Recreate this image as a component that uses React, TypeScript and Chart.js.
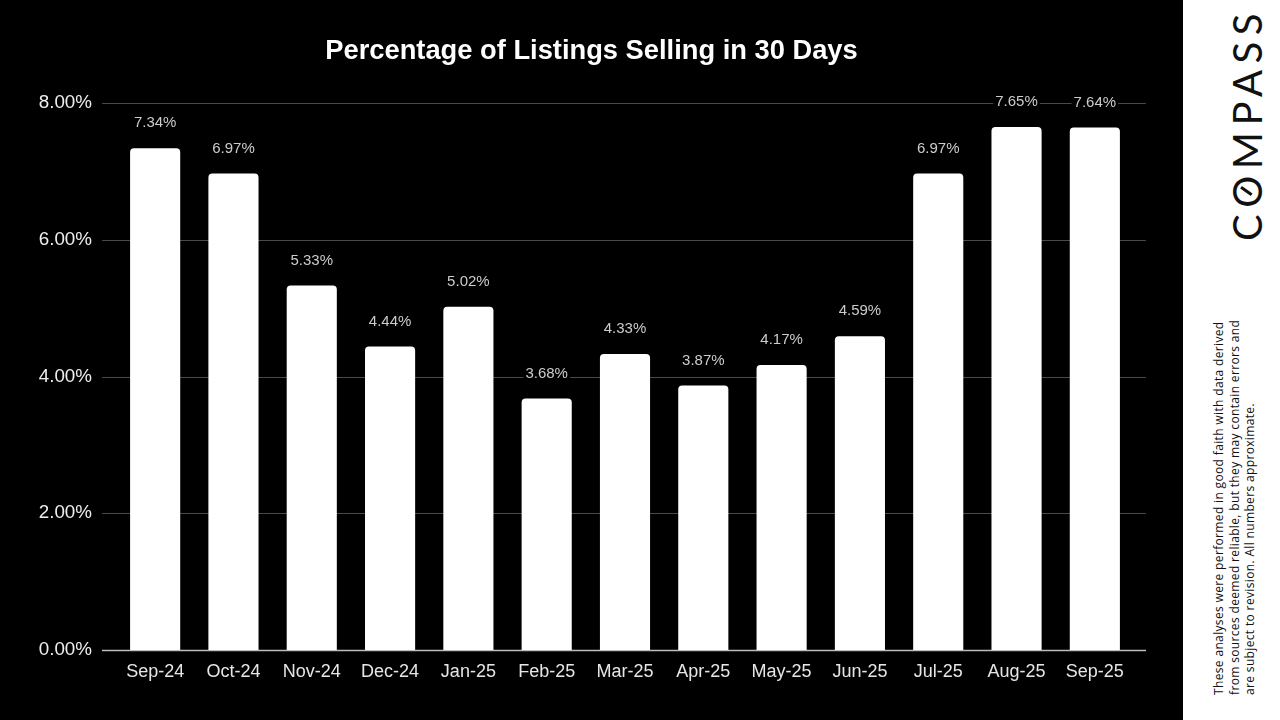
import React, { useEffect, useRef } from "react";
import { Chart, registerables } from "chart.js";

Chart.register(...registerables);

const categories = ["Sep-24", "Oct-24", "Nov-24", "Dec-24", "Jan-25", "Feb-25", "Mar-25", "Apr-25", "May-25", "Jun-25", "Jul-25", "Aug-25", "Sep-25"];
const values = [7.34, 6.97, 5.33, 4.44, 5.02, 3.68, 4.33, 3.87, 4.17, 4.59, 6.97, 7.65, 7.64];
const yTickValues = [0, 2, 4, 6, 8];
const chartTitle = "Percentage of Listings Selling in 30 Days";
const brand = "COMPASS";
const disclaimerLines = [
  "These analyses were performed in good faith with data derived",
  "from sources deemed reliable, but they may contain errors and",
  "are subject to revision. All numbers approximate.",
];

const FONT = "'Liberation Sans', Arial, sans-serif";

export default function App() {
  const ref = useRef<HTMLCanvasElement>(null);

  useEffect(() => {
    if (!ref.current) return;

    const gridPlugin = {
      id: "customGrid",
      beforeDatasetsDraw(chart: any) {
        const { ctx, chartArea, scales } = chart;
        const y = scales.y;
        const left = chartArea.left - 14;
        const right = chartArea.right + 12;
        ctx.save();
        yTickValues.forEach((v) => {
          const py = Math.round(y.getPixelForValue(v)) + 0.5;
          ctx.beginPath();
          ctx.strokeStyle = v === 0 ? "#bdbdbd" : "#4a4a4a";
          ctx.lineWidth = v === 0 ? 1.5 : 1;
          ctx.moveTo(left, py);
          ctx.lineTo(right, py);
          ctx.stroke();
        });
        ctx.restore();
      },
    };

    const labelPlugin = {
      id: "valueLabels",
      afterDatasetsDraw(chart: any) {
        const { ctx } = chart;
        const meta = chart.getDatasetMeta(0);
        ctx.save();
        ctx.font = `15px ${FONT}`;
        ctx.textAlign = "center";
        ctx.textBaseline = "middle";
        meta.data.forEach((bar: any, i: number) => {
          const text = values[i].toFixed(2) + "%";
          const cx = bar.x;
          const cy = bar.y - 25;
          const w = ctx.measureText(text).width;
          ctx.fillStyle = "#000";
          ctx.fillRect(cx - w / 2 - 2, cy - 8, w + 4, 16);
          ctx.fillStyle = "#cccccc";
          ctx.fillText(text, cx, cy);
        });
        ctx.restore();
      },
    };

    const titlePlugin = {
      id: "centerTitle",
      afterDraw(chart: any) {
        const { ctx } = chart;
        ctx.save();
        ctx.font = `bold 27.3px ${FONT}`;
        ctx.fillStyle = "#ffffff";
        ctx.textAlign = "center";
        ctx.textBaseline = "middle";
        ctx.fillText(chartTitle, chart.width / 2, 51);
        ctx.restore();
      },
    };

    const chart = new Chart(ref.current, {
      type: "bar",
      data: {
        labels: categories,
        datasets: [
          {
            data: values,
            backgroundColor: "#ffffff",
            borderWidth: 0,
            borderRadius: { topLeft: 4, topRight: 4, bottomLeft: 0, bottomRight: 0 },
            borderSkipped: false,
            categoryPercentage: 0.8,
            barPercentage: 0.8,
          },
        ],
      },
      options: {
        responsive: false,
        animation: false,
        layout: { padding: { left: 0, right: 49, top: 103, bottom: 0 } },
        plugins: {
          legend: { display: false },
          title: { display: false },
          tooltip: { enabled: false },
        },
        scales: {
          x: {
            grid: { display: false, drawTicks: false },
            border: { display: false },
            ticks: {
              color: "#e6e6e6",
              font: { family: FONT, size: 18 },
              padding: 11,
              maxRotation: 0,
              autoSkip: false,
            },
            afterFit(scale: any) {
              scale.height = 70;
            },
          },
          y: {
            min: 0,
            max: 8,
            grid: { display: false, drawTicks: false },
            border: { display: false },
            ticks: {
              stepSize: 2,
              color: "#eeeeee",
              font: { family: FONT, size: 18.8 },
              padding: 24,
              callback: (v: any) => Number(v).toFixed(2) + "%",
            },
            afterFit(scale: any) {
              scale.width = 116;
            },
          },
        },
      },
      plugins: [gridPlugin, labelPlugin, titlePlugin],
    });

    return () => chart.destroy();
  }, []);

  return (
    <div style={{ position: "fixed", left: 0, top: 0, width: 1280, height: 720, background: "#000", overflow: "hidden" }}>
      <canvas ref={ref} width={1183} height={720} style={{ position: "absolute", left: 0, top: 0, width: 1183, height: 720 }} />
      <div style={{ position: "absolute", left: 1183, top: 0, width: 97, height: 720, background: "#ffffff" }}>
        <div
          style={{
            position: "absolute",
            left: 64,
            top: 124,
            transform: "translate(-50%, -50%) rotate(-90deg)",
            whiteSpace: "nowrap",
            fontFamily: "Lato, 'Noto Sans', sans-serif",
            fontWeight: 400,
            fontSize: 40,
            letterSpacing: 6.5,
            color: "#111",
            lineHeight: 1,
          }}
        >
          {brand.split("").map((ch, i) =>
            i === 1 ? (
              <span key={i} style={{ position: "relative", display: "inline-block" }}>
                {ch}
                <span
                  style={{
                    position: "absolute",
                    left: "50%",
                    top: "50%",
                    width: 3,
                    height: 13,
                    background: "#111",
                    transform: "translate(-50%, -55%) rotate(35deg)",
                    marginLeft: -3,
                  }}
                />
              </span>
            ) : (
              <span key={i}>{ch}</span>
            )
          )}
        </div>
        <div
          style={{
            position: "absolute",
            left: 28,
            top: 695,
            transformOrigin: "0 0",
            transform: "rotate(-90deg)",
            whiteSpace: "nowrap",
            fontFamily: "'Open Sans', 'Noto Sans', sans-serif",
            fontSize: 12,
            letterSpacing: 0.35,
            lineHeight: "15.5px",
            color: "#111",
          }}
        >
          {disclaimerLines.map((l, i) => (
            <div key={i}>{l}</div>
          ))}
        </div>
      </div>
    </div>
  );
}
